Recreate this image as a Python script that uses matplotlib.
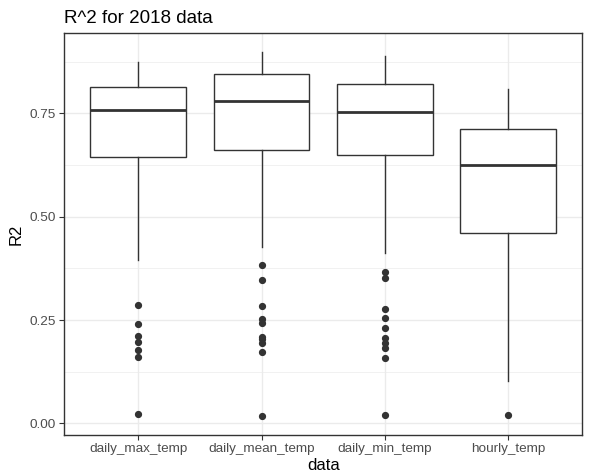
import numpy as np
import matplotlib.pyplot as plt

plt.rcParams['font.family'] = ['Liberation Sans', 'DejaVu Sans']

# data
groups = ['daily_max_temp', 'daily_mean_temp', 'daily_min_temp', 'hourly_temp']
whisk_lo = [0.395, 0.427, 0.411, 0.102]
q1 = [0.645, 0.661, 0.649, 0.460]
med = [0.758, 0.780, 0.754, 0.624]
q3 = [0.814, 0.846, 0.821, 0.712]
whisk_hi = [0.874, 0.899, 0.889, 0.808]
outliers = [
    [0.286, 0.241, 0.212, 0.197, 0.177, 0.161, 0.022],
    [0.384, 0.346, 0.283, 0.252, 0.242, 0.210, 0.203, 0.194, 0.173, 0.017],
    [0.365, 0.352, 0.276, 0.255, 0.231, 0.206, 0.195, 0.183, 0.159, 0.021],
    [0.020],
]

stats = []
for i, g in enumerate(groups):
    stats.append(dict(label=g, whislo=whisk_lo[i], q1=q1[i], med=med[i],
                      q3=q3[i], whishi=whisk_hi[i], fliers=outliers[i]))

dark = '#333333'
fig = plt.figure(figsize=(5.97, 4.76), dpi=100)
ax = fig.add_axes([0.1077, 0.0861, 0.975 - 0.1077, 0.9307 - 0.0861])

pos = np.arange(1, len(groups) + 1)
ax.bxp(stats, positions=pos, widths=0.776, showcaps=False, patch_artist=True,
       boxprops=dict(facecolor='white', edgecolor=dark, linewidth=1.0),
       medianprops=dict(color=dark, linewidth=2.0),
       whiskerprops=dict(color=dark, linewidth=1.0),
       flierprops=dict(marker='o', markerfacecolor=dark, markeredgecolor=dark,
                       markersize=4.2, linestyle='none'),
       zorder=3)

ax.set_xlim(0.4, 4.6)
ax.set_ylim(-0.028, 0.944)
ax.set_yticks([0, 0.25, 0.5, 0.75])
ax.set_yticklabels(['0.00', '0.25', '0.50', '0.75'])
ax.set_yticks([0.125, 0.375, 0.625, 0.875], minor=True)
ax.set_xticks(pos)
ax.set_xticklabels(groups)

ax.grid(which='major', color='#ebebeb', linewidth=1.0, zorder=0)
ax.grid(which='minor', axis='y', color='#ebebeb', linewidth=0.5, zorder=0)
ax.set_axisbelow(True)
ax.tick_params(which='minor', length=0)
ax.tick_params(which='major', length=3.5, width=0.8, color=dark,
               labelsize=9.7, labelcolor='#4d4d4d', pad=2.5)
for s in ax.spines.values():
    s.set_color(dark)
    s.set_linewidth(1.0)

ax.set_xlabel('data', fontsize=12, labelpad=2)
ax.set_ylabel('R2', fontsize=12, labelpad=4)
ax.set_title('R^2 for 2018 data', fontsize=13.5, loc='left', pad=7)

fig.savefig('out.png', dpi=100)
